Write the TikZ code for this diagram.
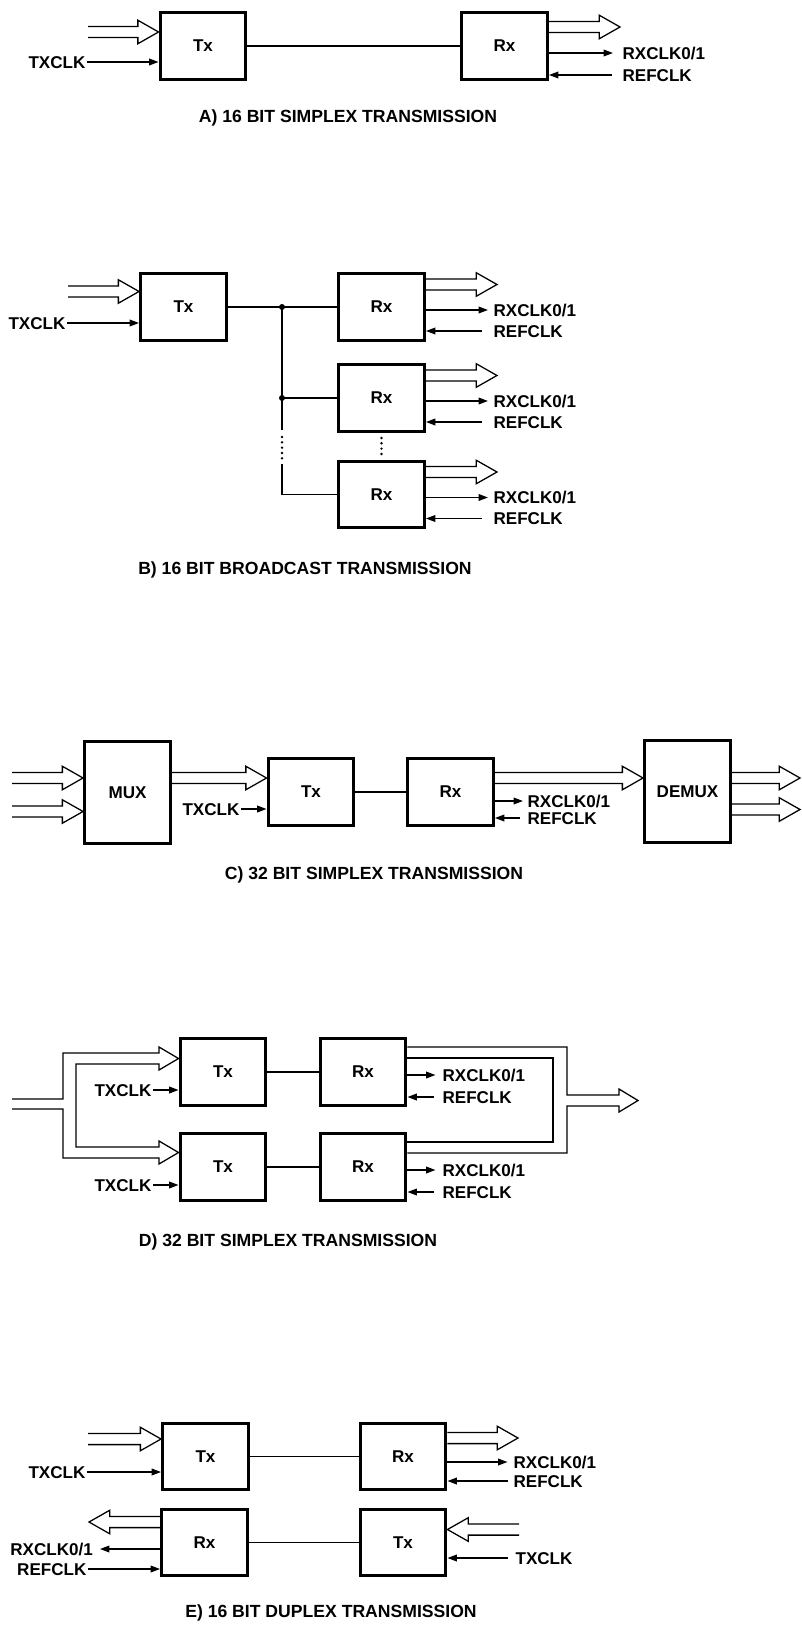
\documentclass[tikz,border=0pt]{standalone}
\usepackage{fontspec}
\setmainfont{Liberation Sans}
\usetikzlibrary{arrows.meta,positioning,calc}

% hollow bus arrow: free end #1, tip #2 (same height)
\newcommand{\busarrow}[2]{%
  \draw[bus] let \p1=(#1), \p2=(#2), \p3=($(#2)!15.5pt!(#1)$) in
    (\x1,\y2+4.2pt) -- (\x3,\y2+4.2pt) -- (\x3,\y2+8.8pt) -- (\x2,\y2)
    -- (\x3,\y2-8.8pt) -- (\x3,\y2-4.2pt) -- (\x1,\y2-4.2pt);}

\begin{document}
\begin{tikzpicture}[x=0.75pt,y=-0.75pt,
   font=\bfseries\fontsize{12.8}{14}\selectfont,
   blk/.style={draw,line width=2.4pt,minimum width=64.3pt,minimum height=50pt,inner sep=0pt},
   mux/.style={blk,minimum height=76.3pt},
   wire/.style={line width=1pt},
   sig/.style={line width=1pt,-{Triangle[length=7pt,width=5pt]}},
   bus/.style={line width=0.95pt,line join=miter},
   lbl/.style={inner sep=1pt,text height=9.2pt,text depth=0pt},
   ttl/.style={font=\bfseries\fontsize{13.2}{15}\selectfont},
   jdot/.style={circle,fill,inner sep=0pt,minimum size=4.5pt},
   gapdots/.style={line width=2pt,line cap=round,dash pattern=on 0pt off 4pt}]
  \useasboundingbox (0,0) rectangle (801,1626);

  % A
  \node[blk] (txA) at (203,46) {Tx};
  \node[blk] (rxA) at (504.5,46) {Rx};
  \draw[wire] (txA) -- (rxA);
  \coordinate (inA) at (88,32);
  \busarrow{inA}{txA.west |- inA}
  \node[lbl,anchor=east] (ckA) at (87,62) {TXCLK};
  \draw[sig] (ckA) -- (txA.west |- ckA);
  \coordinate (outA) at (620,27);
  \busarrow{rxA.east |- outA}{outA}
  \node[lbl,anchor=west] (rckA) at (621,53) {RXCLK0/1};
  \draw[sig] (rxA.east |- rckA) -- ++(64,0);
  \node[lbl,anchor=west] (refA) at (621,75) {REFCLK};
  \draw[sig] ($(refA.west)+(-9,0)$) -- (rxA.east |- refA);
  \node[ttl] (tA) at (348,118) {A) 16 BIT SIMPLEX TRANSMISSION};

  % B
  \node[blk] (txB) at (183.5,307) {Tx};
  \node[blk] (rxB1) at (381.5,307) {Rx};
  \node[blk] (rxB2) at (381.5,398) {Rx};
  \node[blk] (rxB3) at (381.5,494.5) {Rx};
  \draw[wire] (txB) -- (rxB1);
  \node[jdot] (jB1) at (282,307) {};
  \node[jdot] (jB2) at (282,398) {};
  \draw[wire] (jB1.center) -- (282,430);
  \draw[wire] (jB2.center) -- (rxB2);
  \draw[gapdots] (282,437) -- (282,459);
  \draw[wire] (282,464) |- (rxB3);
  \draw[gapdots] ($(rxB2.south)+(0,5)$) -- ($(rxB3.north)+(0,-3)$);
  \coordinate (inB) at (68,291.5);
  \busarrow{inB}{txB.west |- inB}
  \node[lbl,anchor=east] (ckB) at (67,323) {TXCLK};
  \draw[sig] (ckB) -- (txB.west |- ckB);
  \foreach \k in {1,2,3}{
    \coordinate (outB\k) at ($(rxB\k.east)+(71,-22.5)$);
    \busarrow{rxB\k.east |- outB\k}{outB\k}
    \node[lbl,anchor=west] (rckB\k) at ($(rxB\k.east)+(66,3)$) {RXCLK0/1};
    \draw[sig] (rxB\k.east |- rckB\k) -- ++(62,0);
    \node[lbl,anchor=west] (refB\k) at ($(rxB\k.east)+(66,24)$) {REFCLK};
    \draw[sig] ($(refB\k.west)+(-10,0)$) -- (rxB\k.east |- refB\k);
  }
  \node[ttl] (tB) at (305,570) {B) 16 BIT BROADCAST TRANSMISSION};

  % C
  \node[mux] (muxC) at (127.5,792.5) {MUX};
  \node[blk] (txC) at (311,792) {Tx};
  \node[blk] (rxC) at (450.5,792) {Rx};
  \node[mux] (dmxC) at (687.5,791.5) {DEMUX};
  \draw[wire] (txC) -- (rxC);
  \foreach \yy [count=\k] in {778,811.5}{
    \coordinate (inC\k) at (12,\yy);
    \busarrow{inC\k}{muxC.west |- inC\k}
  }
  \busarrow{muxC.east |- 0,778}{txC.west |- 0,778}
  \node[lbl,anchor=east] (ckC) at (241,809) {TXCLK};
  \draw[sig] (ckC) -- (txC.west |- ckC);
  \busarrow{rxC.east |- 0,778}{dmxC.west |- 0,778}
  \node[lbl,anchor=west] (rckC) at (526,801) {RXCLK0/1};
  \draw[sig] (rxC.east |- rckC) -- ++(28,0);
  \node[lbl,anchor=west] (refC) at (526,818) {REFCLK};
  \draw[sig] ($(refC.west)+(-6,0)$) -- (rxC.east |- refC);
  \foreach \yy [count=\k] in {778,809.5}{
    \coordinate (outC\k) at (800,\yy);
    \busarrow{dmxC.east |- outC\k}{outC\k}
  }
  \node[ttl] (tC) at (374,875) {C) 32 BIT SIMPLEX TRANSMISSION};

  % D
  \node[blk] (txD1) at (223,1072) {Tx};
  \node[blk] (rxD1) at (363,1072) {Rx};
  \node[blk] (txD2) at (223,1167) {Tx};
  \node[blk] (rxD2) at (363,1167) {Rx};
  \draw[wire] (txD1) -- (rxD1);
  \draw[wire] (txD2) -- (rxD2);
  \draw[bus] (12,1099) -| (63,1053) -- (159,1053) -- (159,1047) -- (txD1.west |- 0,1058.5)
    -- (159,1070) -- (159,1064) -- (76,1064) |- (159,1147) -- (159,1141)
    -- (txD2.west |- 0,1152.5) -- (159,1164) -- (159,1158) -- (63,1158) |- (12,1109);
  \coordinate (outD) at (638,1100.5);
  \draw[bus] (rxD1.east |- 0,1047) -- (567,1047) -- (567,1095) -- (619,1095) -- (619,1089)
    -- (outD) -- (619,1112) -- (619,1106) -- (567,1106) -- (567,1153) -- (rxD2.east |- 0,1153);
  \draw[bus] (rxD1.east |- 0,1058) -| (553,1142) -- (rxD2.east |- 0,1142);
  \foreach \k/\yy in {1/1072,2/1167}{
    \node[lbl,anchor=east] (ckD\k) at (153,\yy+18) {TXCLK};
    \draw[sig] (ckD\k) -- (txD\k.west |- ckD\k);
    \node[lbl,anchor=west] (rckD\k) at (441,\yy+3) {RXCLK0/1};
    \draw[sig] (rxD\k.east |- rckD\k) -- ++(28,0);
    \node[lbl,anchor=west] (refD\k) at (441,\yy+25) {REFCLK};
    \draw[sig] ($(refD\k.west)+(-7,0)$) -- (rxD\k.east |- refD\k);
  }
  \node[ttl] (tD) at (288,1242) {D) 32 BIT SIMPLEX TRANSMISSION};

  % E
  \node[blk] (txE1) at (205.5,1456.5) {Tx};
  \node[blk] (rxE1) at (403,1456.5) {Rx};
  \node[blk] (rxE2) at (204.5,1542.5) {Rx};
  \node[blk] (txE2) at (403,1542.5) {Tx};
  \draw[wire] (txE1) -- (rxE1);
  \draw[wire] (rxE2) -- (txE2);
  \coordinate (inE1) at (88,1439);
  \busarrow{inE1}{txE1.west |- inE1}
  \node[lbl,anchor=east] (ckE1) at (87,1472) {TXCLK};
  \draw[sig] (ckE1) -- (txE1.west |- ckE1);
  \coordinate (outE1) at (518,1438);
  \busarrow{rxE1.east |- outE1}{outE1}
  \node[lbl,anchor=west] (rckE1) at (512,1462) {RXCLK0/1};
  \draw[sig] (rxE1.east |- rckE1) -- ++(60,0);
  \node[lbl,anchor=west] (refE1) at (512,1481) {REFCLK};
  \draw[sig] ($(refE1.west)+(-4,0)$) -- (rxE1.east |- refE1);
  \coordinate (outE2) at (89,1522);
  \busarrow{rxE2.west |- outE2}{outE2}
  \node[lbl,anchor=east] (rckE2) at (94.5,1549) {RXCLK0/1};
  \draw[sig] (rxE2.west |- rckE2) -- ($(rckE2.east)+(5.5,0)$);
  \node[lbl,anchor=east] (refE2) at (88,1569) {REFCLK};
  \draw[sig] (refE2) -- (rxE2.west |- refE2);
  \coordinate (inE2) at (519,1529.5);
  \busarrow{inE2}{txE2.east |- inE2}
  \node[lbl,anchor=west] (ckE2) at (514,1558) {TXCLK};
  \draw[sig] ($(ckE2.west)+(-6,0)$) -- (txE2.east |- ckE2);
  \node[ttl] (tE) at (331,1613) {E) 16 BIT DUPLEX TRANSMISSION};
\end{tikzpicture}
\end{document}
